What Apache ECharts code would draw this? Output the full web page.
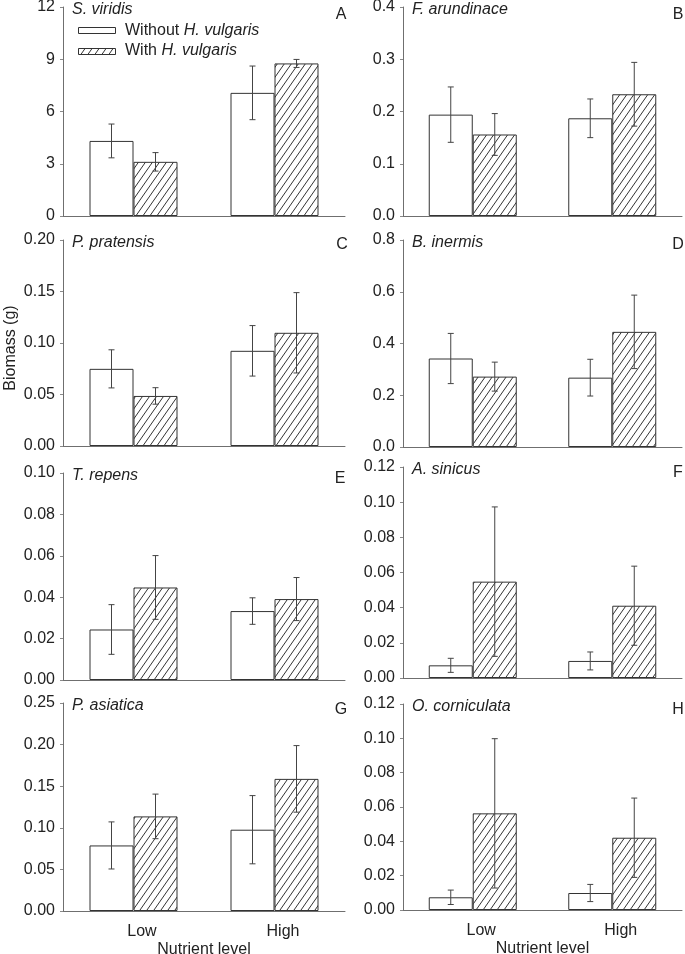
<!DOCTYPE html>
<html>
<head>
<meta charset="utf-8">
<script src="https://cdn.jsdelivr.net/npm/echarts@6/dist/echarts.min.js"></script>
<style>
html,body{margin:0;padding:0;background:#fff;}
#chart{width:685px;height:954px;}
</style>
</head>
<body>
<div id="chart"></div>
<script>
// ---- Data ----
const categories = ['Low', 'High'];
const seriesNames = ['Without H. vulgaris', 'With H. vulgaris'];
const species = ['S. viridis', 'F. arundinace', 'P. pratensis', 'B. inermis', 'T. repens', 'A. sinicus', 'P. asiatica', 'O. corniculata'];
const letters = ['A', 'B', 'C', 'D', 'E', 'F', 'G', 'H'];
const yMax = [12, 0.4, 0.20, 0.8, 0.10, 0.12, 0.25, 0.12];
const yInterval = [3, 0.1, 0.05, 0.2, 0.02, 0.02, 0.05, 0.02];
const yDecimals = [0, 1, 2, 1, 2, 2, 2, 2];

// means [Low, High] and standard errors [Low, High]
const A_without = [4.31, 7.07], A_with = [3.11, 8.76];
const A_seWithout = [0.97, 1.54], A_seWith = [0.53, 0.23];
const B_without = [0.194, 0.187], B_with = [0.156, 0.233];
const B_seWithout = [0.053, 0.037], B_seWith = [0.040, 0.061];
const C_without = [0.0749, 0.0924], C_with = [0.0486, 0.1099];
const C_seWithout = [0.0185, 0.0245], C_seWith = [0.0080, 0.0390];
const D_without = [0.342, 0.268], D_with = [0.272, 0.445];
const D_seWithout = [0.097, 0.071], D_seWith = [0.056, 0.142];
const E_without = [0.0244, 0.0333], E_with = [0.0447, 0.0391];
const E_seWithout = [0.0120, 0.0064], E_seWith = [0.0154, 0.0104];
const F_without = [0.0072, 0.0097], F_with = [0.0548, 0.0411];
const F_seWithout = [0.0040, 0.0051], F_seWith = [0.0425, 0.0225];
const G_without = [0.0788, 0.0977], G_with = [0.1137, 0.1588];
const G_seWithout = [0.0283, 0.0410], G_seWith = [0.0268, 0.0400];
const H_without = [0.0074, 0.0099], H_with = [0.0563, 0.0421];
const H_seWithout = [0.0042, 0.0050], H_seWith = [0.0435, 0.0231];

const withoutMeans = [A_without, B_without, C_without, D_without, E_without, F_without, G_without, H_without];
const withMeans = [A_with, B_with, C_with, D_with, E_with, F_with, G_with, H_with];
const withoutSE = [A_seWithout, B_seWithout, C_seWithout, D_seWithout, E_seWithout, F_seWithout, G_seWithout, H_seWithout];
const withSE = [A_seWith, B_seWith, C_seWith, D_seWith, E_seWith, F_seWith, G_seWith, H_seWith];

// ---- Layout ----
const grids = [
  {left: 63, top: 7, width: 282, height: 209},
  {left: 403, top: 7, width: 279, height: 209},
  {left: 63, top: 240, width: 282, height: 206},
  {left: 403, top: 240, width: 279, height: 207},
  {left: 63, top: 473, width: 282, height: 207},
  {left: 403, top: 467, width: 279, height: 211},
  {left: 63, top: 703, width: 282, height: 208},
  {left: 403, top: 704, width: 279, height: 206}
];
const letterPos = [[341, 15], [678, 15], [342, 245], [678, 245], [340, 479], [678, 473], [341, 710], [678, 710]];

const FONT = 'Liberation Sans, Arial, sans-serif';
const FS = 16;
const BAR_W = 44;

// hatch pattern
function makeHatch() {
  const w = 7, h = 10;
  const c = document.createElement('canvas');
  c.width = w; c.height = h;
  const ctx = c.getContext('2d');
  ctx.fillStyle = '#ffffff';
  ctx.fillRect(0, 0, w, h);
  ctx.strokeStyle = '#333333';
  ctx.lineWidth = 1;
  ctx.beginPath();
  for (let k = -1; k <= 1; k++) {
    ctx.moveTo(-w + k * w, 2 * h);
    ctx.lineTo(2 * w + k * w, -h);
  }
  ctx.stroke();
  return c;
}
const hatch = makeHatch();

const option = {
  animation: false,
  backgroundColor: '#ffffff',
  grid: [], xAxis: [], yAxis: [], series: [],
  graphic: []
};

function errRender(offset) {
  return function (params, api) {
    const x = api.value(0), m = api.value(1), e = api.value(2);
    const top = api.coord([x, m + e]);
    const bot = api.coord([x, m - e]);
    const cx = top[0] + offset;
    const st = {stroke: '#444', lineWidth: 1};
    return {
      type: 'group',
      children: [
        {type: 'line', shape: {x1: cx, y1: top[1], x2: cx, y2: bot[1]}, style: st},
        {type: 'line', shape: {x1: cx - 3, y1: top[1], x2: cx + 3, y2: top[1]}, style: st},
        {type: 'line', shape: {x1: cx - 3, y1: bot[1], x2: cx + 3, y2: bot[1]}, style: st}
      ]
    };
  };
}

for (let i = 0; i < 8; i++) {
  const bottomRow = i >= 6;
  option.grid.push(Object.assign({containLabel: false, outerBoundsMode: 'none'}, grids[i]));
  option.xAxis.push({
    type: 'category', gridIndex: i, data: categories,
    boundaryGap: true,
    axisLine: {lineStyle: {color: '#6f6f6f', width: 1}},
    axisTick: {show: false},
    axisLabel: {show: bottomRow, color: '#222', fontFamily: FONT, fontSize: FS, margin: 13, padding: [0, 0, 0, 17]},
    name: bottomRow ? 'Nutrient level' : '',
    nameLocation: 'middle', nameGap: 31,
    nameTextStyle: {color: '#222', fontFamily: FONT, fontSize: FS}
  });
  const d = yDecimals[i];
  option.yAxis.push({
    type: 'value', gridIndex: i, min: 0, max: yMax[i], interval: yInterval[i],
    axisLine: {show: true, lineStyle: {color: '#6f6f6f', width: 1}},
    axisTick: {show: true, length: 3, lineStyle: {color: '#8a8a8a'}},
    splitLine: {show: false},
    axisLabel: {color: '#222', fontFamily: FONT, fontSize: FS, margin: 8,
      formatter: v => v.toFixed(d)}
  });
  option.series.push({
    type: 'bar', name: seriesNames[0], xAxisIndex: i, yAxisIndex: i,
    data: withoutMeans[i], barWidth: BAR_W, barGap: '0%',
    itemStyle: {color: '#ffffff', borderColor: '#333', borderWidth: 1}
  });
  option.series.push({
    type: 'bar', name: seriesNames[1], xAxisIndex: i, yAxisIndex: i,
    data: withMeans[i], barWidth: BAR_W, barGap: '0%',
    itemStyle: {color: {image: hatch, repeat: 'repeat'}, borderColor: '#333', borderWidth: 1}
  });
  option.series.push({
    type: 'custom', xAxisIndex: i, yAxisIndex: i, z: 5,
    encode: {x: 0, y: 1},
    renderItem: errRender(-BAR_W / 2),
    data: categories.map((c, k) => [k, withoutMeans[i][k], withoutSE[i][k]])
  });
  option.series.push({
    type: 'custom', xAxisIndex: i, yAxisIndex: i, z: 5,
    encode: {x: 0, y: 1},
    renderItem: errRender(BAR_W / 2),
    data: categories.map((c, k) => [k, withMeans[i][k], withSE[i][k]])
  });
  // species name
  option.graphic.push({
    type: 'text', x: grids[i].left + 9, y: grids[i].top + 3,
    style: {text: species[i], fill: '#222', font: 'italic ' + FS + 'px ' + FONT, verticalAlign: 'middle'}
  });
  // panel letter
  option.graphic.push({
    type: 'text', x: letterPos[i][0], y: letterPos[i][1],
    style: {text: letters[i], fill: '#222', font: FS + 'px ' + FONT, align: 'center', verticalAlign: 'middle'}
  });
}

// legend (panel A)
const rich = {
  n: {fontFamily: FONT, fontSize: FS, fill: '#222'},
  i: {fontFamily: FONT, fontSize: FS, fontStyle: 'italic', fill: '#222'}
};
option.graphic.push(
  {type: 'rect', shape: {x: 78.5, y: 27.5, width: 37, height: 6}, style: {fill: '#fff', stroke: '#333', lineWidth: 1}},
  {type: 'rect', shape: {x: 78.5, y: 48.5, width: 37, height: 6}, style: {fill: {image: hatch, repeat: 'repeat'}, stroke: '#333', lineWidth: 1}},
  {type: 'text', x: 125, y: 31, style: {text: '{n|Without }{i|H. vulgaris}', verticalAlign: 'middle', rich: rich}},
  {type: 'text', x: 125, y: 51, style: {text: '{n|With }{i|H. vulgaris}', verticalAlign: 'middle', rich: rich}},
  {type: 'text', x: 11, y: 348, rotation: Math.PI / 2,
    style: {text: 'Biomass (g)', fill: '#222', font: FS + 'px ' + FONT, align: 'center', verticalAlign: 'middle'}}
);

const chart = echarts.init(document.getElementById('chart'), null, {renderer: 'canvas'});
chart.setOption(option);
</script>
</body>
</html>
